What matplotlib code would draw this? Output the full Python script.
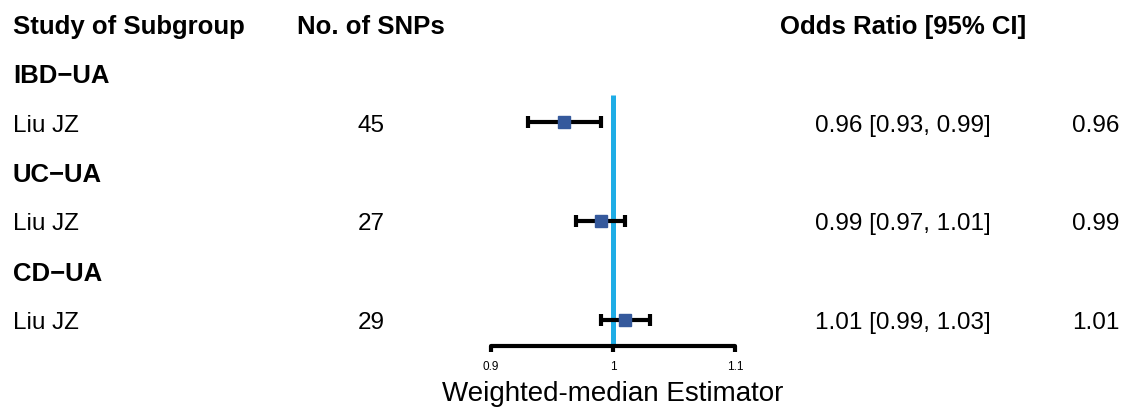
import numpy as np
import matplotlib
matplotlib.use("Agg")
import matplotlib.pyplot as plt
from matplotlib.transforms import blended_transform_factory

plt.rcParams['font.family'] = ['Liberation Sans', 'DejaVu Sans']

# data
groups = ["IBD−UA", "UC−UA", "CD−UA"]
studies = ["Liu JZ", "Liu JZ", "Liu JZ"]
n_snps = [45, 27, 29]
odds = [0.96, 0.99, 1.01]
ci_low = [0.93, 0.97, 0.99]
ci_high = [0.99, 1.01, 1.03]
right_vals = [0.96, 0.99, 1.01]
tick_vals = [0.9, 1.0, 1.1]
tick_labels = ["0.9", "1", "1.1"]

W, H = 1128, 414
fig = plt.figure(figsize=(W / 100, H / 100), dpi=100)

# forest panel, positioned in pixels of the reference
left, right = 491, 735
ax = fig.add_axes([left / W, 1 - 346.5 / H, (right - left) / W, 346.5 / H])
ax.set_xlim(0.9, 1.1)
ax.set_ylim(6.52, -0.49)

group_rows = np.arange(len(groups)) * 2 + 1
study_rows = group_rows + 1

# reference line at OR = 1
ax.vlines(1.0, 1.45, 6.52, color="#1FADE6", lw=3.6, zorder=1)

odds_a = np.array(odds)
xerr = [odds_a - np.array(ci_low), np.array(ci_high) - odds_a]
ax.errorbar(odds, study_rows, xerr=xerr, fmt='s', color="#35599C",
            markeredgecolor="#35599C", markersize=8.5, ecolor="black",
            elinewidth=3, capsize=4, capthick=3, zorder=3)

for s in ["left", "right", "top"]:
    ax.spines[s].set_visible(False)
ax.spines["bottom"].set_linewidth(3)
ax.spines["bottom"].set_capstyle("round")
ax.set_yticks([])
ax.set_xticks(tick_vals)
ax.set_xticklabels(tick_labels)
ax.tick_params(axis='x', direction='out', length=4.5, width=3, labelsize=8.5, pad=6)
ax.set_xlabel("Weighted-median Estimator", fontsize=20, labelpad=6)

# text columns: x in figure pixels, y in row units
tr = blended_transform_factory(fig.transFigure, ax.transData)

def put(px, row, txt, **kw):
    ax.text(px / W, row, txt, transform=tr, va='center_baseline', clip_on=False, **kw)

put(13, 0, "Study of Subgroup", fontsize=18.5, fontweight='bold')
put(371, 0, "No. of SNPs", fontsize=18.5, fontweight='bold', ha='center')
put(903, 0, "Odds Ratio [95% CI]", fontsize=18.5, fontweight='bold', ha='center')

for i in range(len(groups)):
    put(13, group_rows[i], groups[i], fontsize=18.5, fontweight='bold')
    put(13, study_rows[i], studies[i], fontsize=17.5)
    put(371, study_rows[i], str(n_snps[i]), fontsize=17.5, ha='center')
    put(903, study_rows[i], f"{odds[i]:.2f} [{ci_low[i]:.2f}, {ci_high[i]:.2f}]",
        fontsize=17.5, ha='center')
    put(1119, study_rows[i], f"{right_vals[i]:.2f}", fontsize=17.5, ha='right')

fig.savefig("out.png", dpi=100, facecolor="white")
